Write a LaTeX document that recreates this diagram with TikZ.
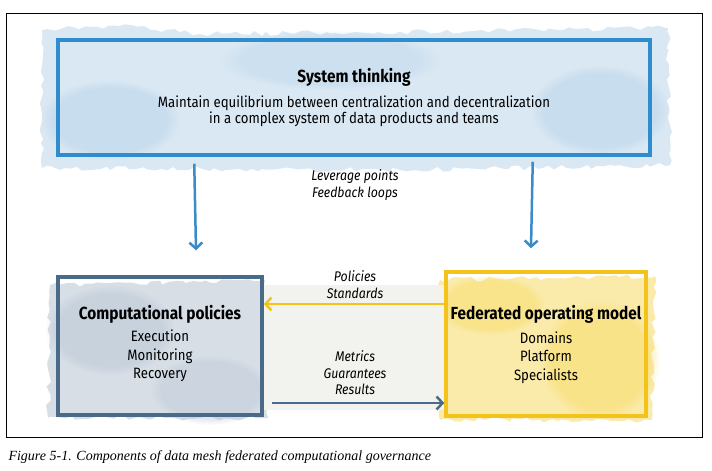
\documentclass[tikz,border=0pt]{standalone}
\usepackage{fontspec}
\newfontfamily\dfont[FakeStretch=0.88]{Fira Sans}
\newfontfamily\capfont{Liberation Serif}
\usetikzlibrary{arrows.meta,fadings,decorations.pathmorphing}
\definecolor{topblue}{HTML}{2F8DCD}
\definecolor{toparr}{HTML}{3A8CC8}
\definecolor{slate}{HTML}{4A6A8A}
\definecolor{gold}{HTML}{F3C31C}
\definecolor{midgray}{HTML}{F2F2EE}
\definecolor{washblue}{HTML}{DAE8F3}
\definecolor{washblue2}{HTML}{B7D3EA}
\definecolor{washslate}{HTML}{D7DEE6}
\definecolor{washslate2}{HTML}{BAC7D5}
\definecolor{washgold}{HTML}{FAEBAA}
\definecolor{washgold2}{HTML}{F8DA60}
\tikzset{
  x=1pt,y=-1pt,
  box/.style={draw, line width=3.5pt, inner sep=0pt, align=center},
  title/.style={font=\dfont\bfseries\fontsize{17.5}{20}\selectfont},
  body/.style={font=\dfont\fontsize{15}{16.5}\selectfont, align=center},
  listbody/.style={font=\dfont\fontsize{15}{18.5}\selectfont, align=center},
  lab/.style={font=\dfont\itshape\fontsize{14}{16.5}\selectfont, align=center},
  barb/.style={-{Straight Barb[length=6pt,width=13pt,line width=2.5pt]}, line width=2.5pt},
  blob/.style={path fading=circle with fuzzy edge 20 percent},
  wash/.style={decorate, decoration={random steps, segment length=6pt, amplitude=2.5pt}},
}
\begin{document}
\begin{tikzpicture}
\pgfmathsetseed{7}
\useasboundingbox (0,0) rectangle (712,471);
\fill[white] (0,0) rectangle (712,471);
% washes
\fill[washblue, wash] (42,30) -- (120,26) -- (200,34) -- (400,32) -- (668,28) -- (670,165) -- (400,170) -- (42,168) -- cycle;
\fill[washblue2, blob, opacity=0.5] (110,120) ellipse (70 and 40);
\fill[washblue2, blob, opacity=0.5] (600,110) ellipse (70 and 45);
\fill[washblue2, blob, opacity=0.35] (330,60) ellipse (110 and 30);
\fill[washslate, wash] (50,285) -- (265,280) -- (268,418) -- (48,418) -- cycle;
\fill[washslate2, blob, opacity=0.5] (110,330) ellipse (65 and 45);
\fill[washslate2, blob, opacity=0.4] (210,390) ellipse (60 and 35);
\fill[washgold, wash] (440,280) -- (655,276) -- (652,420) -- (440,420) -- cycle;
\fill[washgold2, blob, opacity=0.45] (600,360) ellipse (60 and 60);
\fill[washgold2, blob, opacity=0.4] (490,305) ellipse (55 and 30);
\fill[midgray] (264,285) rectangle (444,410);
% boxes
\node[box, draw=topblue, minimum width=592pt, minimum height=115pt] (top) at (354,97.5) {};
\node[title] at (354,77) {System thinking};
\node[body] (topbody) at (354,111) {Maintain equilibrium between centralization and decentralization\\in a complex system of data products and teams};
\node[box, draw=slate, minimum width=204pt, minimum height=138pt] (left) at (160,346) {};
\node[title] at (160,314) {Computational policies};
\node[listbody] (leftbody) at (160,356) {Execution\\Monitoring\\Recovery};
\node[box, draw=gold, minimum width=200pt, minimum height=144pt] (right) at (546,344) {};
\node[title] at (546,314) {Federated operating model};
\node[listbody] (rightbody) at (546,357.5) {Domains\\Platform\\Specialists};
% arrows
\draw[barb, toparr] ([xshift=138pt,yshift=-7pt]top.south west) -- ([xshift=36pt,yshift=25pt]left.north);
\draw[barb, toparr] ([xshift=-119pt,yshift=-5pt]top.south east) -- ([xshift=-15pt,yshift=22pt]right.north);
\draw[barb, gold] ([yshift=40pt]right.west) -- ([yshift=42pt]left.east);
\draw[barb, slate] ([xshift=8pt,yshift=-57pt]left.east) -- ([yshift=-59pt]right.west);
% labels
\node[lab] (l1) at (355,185) {Leverage points\\Feedback loops};
\node[lab] (l2) at (355,284.5) {Policies\\Standards};
\node[lab] (l3) at (355,373) {Metrics\\Guarantees\\Results};
% frame and caption
\draw[line width=0.8pt] (6,13) rectangle (702,437);
\node[anchor=west, font=\capfont\itshape\fontsize{14}{17}\selectfont] (cap) at (5,457) {Figure 5-1. Components of data mesh federated computational governance};
\end{tikzpicture}
\end{document}
